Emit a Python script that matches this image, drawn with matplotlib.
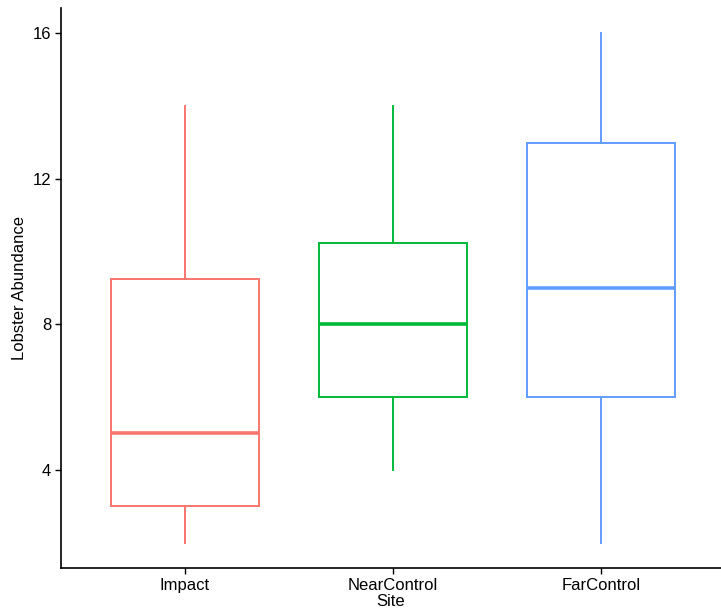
import matplotlib
matplotlib.use("Agg")
from matplotlib import pyplot as plt

plt.rcParams['font.family'] = ['Liberation Sans', 'DejaVu Sans']

sites = ['Impact', 'NearControl', 'FarControl']
colors = ['#F8766D', '#00BA38', '#619CFF']
lo = [2, 4, 2]
q1 = [3, 6, 6]
med = [5, 8, 9]
q3 = [9.25, 10.25, 13]
hi = [14, 14, 16]

stats = []
for i in range(len(sites)):
    stats.append({'label': sites[i], 'whislo': lo[i], 'q1': q1[i], 'med': med[i],
                  'q3': q3[i], 'whishi': hi[i], 'fliers': []})

fig = plt.figure(figsize=(7.21, 6.14), dpi=100)
ax = fig.add_axes([0.0846, 0.0749, 0.9154, 0.912])

for i, s in enumerate(stats):
    c = colors[i]
    ax.bxp([s], positions=[i + 1], widths=0.71, showcaps=False, showfliers=False,
           patch_artist=True,
           boxprops=dict(facecolor='white', edgecolor=c, linewidth=1.4),
           whiskerprops=dict(color=c, linewidth=1.4),
           medianprops=dict(color=c, linewidth=2.6))

ax.set_xlim(0.405, 3.575)
ax.set_ylim(1.3, 16.7)
ax.set_xticks([1, 2, 3])
ax.set_xticklabels(sites)
ax.set_yticks([4, 8, 12, 16])

for side in ['top', 'right']:
    ax.spines[side].set_visible(False)
for side in ['left', 'bottom']:
    ax.spines[side].set_linewidth(1.2)
    ax.spines[side].set_color('black')

ax.tick_params(axis='both', length=4, width=1.0, color='black', labelsize=12,
               labelcolor='black', pad=3)
ax.set_xlabel('Site', fontsize=12, labelpad=1)
ax.set_ylabel('Lobster Abundance', fontsize=12, labelpad=4)

fig.savefig('out.png', dpi=100)
